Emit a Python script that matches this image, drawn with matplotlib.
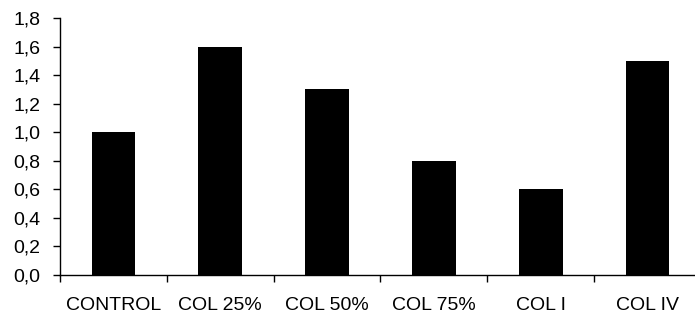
import matplotlib
matplotlib.use("Agg")
import matplotlib.pyplot as plt
from matplotlib.ticker import FixedLocator, FuncFormatter

categories = ["CONTROL", "COL 25%", "COL 50%", "COL 75%", "COL I", "COL IV"]
values = [1.0, 1.6, 1.3, 0.8, 0.6, 1.5]

plt.rcParams['font.family'] = ['Liberation Sans', 'DejaVu Sans']

fig = plt.figure(figsize=(6.95, 3.21), dpi=100)
ax = fig.add_axes([60/695, 46/321, 641/695, 257/321])

x = list(range(len(categories)))
ax.bar(x, values, width=0.41, color='black')

ax.set_xlim(-0.5, len(categories) - 0.5)
ax.set_ylim(0, 1.8)
ax.set_yticks([i * 0.2 for i in range(10)])
ax.yaxis.set_major_formatter(FuncFormatter(lambda v, p: f"{v:.1f}".replace('.', ',')))
ax.set_xticks(x)
ax.set_xticklabels(categories)
ax.xaxis.set_minor_locator(FixedLocator([i - 0.5 for i in range(len(categories) + 1)]))

ax.spines['top'].set_visible(False)
ax.spines['right'].set_visible(False)
for s in ['left', 'bottom']:
    ax.spines[s].set_linewidth(1.0)

ax.tick_params(axis='y', direction='out', length=5, width=1.0, labelsize=14, pad=9)
ax.tick_params(axis='x', which='major', length=0, labelsize=14, pad=16)
ax.tick_params(axis='x', which='minor', direction='out', length=5, width=1.0)

fig.savefig("out.png", dpi=100)
